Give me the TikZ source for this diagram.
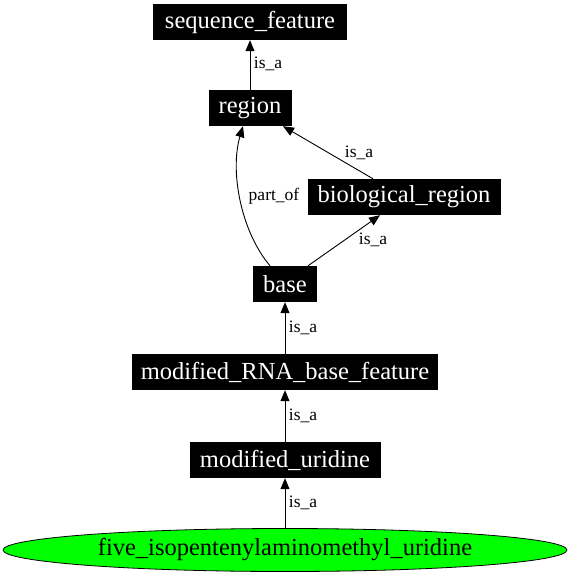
\documentclass[tikz,border=0pt]{standalone}
\usepackage{fontspec}
\setmainfont{Liberation Serif}
\usetikzlibrary{shapes.geometric,arrows.meta,calc}
\definecolor{limegreen}{RGB}{0,255,0}
\tikzset{
  termbox/.style={fill=black,text=white,inner sep=0pt,minimum height=36pt,
    font=\fontsize{24.5}{28}\selectfont},
  leafnode/.style={ellipse,draw=black,fill=limegreen,inner sep=0pt,
    minimum width=564pt,minimum height=43pt,line width=0.8pt,
    font=\fontsize{24.5}{28}\selectfont},
  edgelabel/.style={font=\fontsize{17.5}{20}\selectfont,inner sep=0pt},
  rel/.style={draw=black,line width=0.9pt,-{Triangle[length=11pt,width=9pt]}}
}
\begin{document}
\begin{tikzpicture}[x=1pt,y=-1pt]
\useasboundingbox (0,0) rectangle (570,576);
\node[termbox,minimum width=194pt] (seq) at (250,22) {sequence\_feature};
\node[termbox,minimum width=83pt] (region) at (250,108) {region};
\node[termbox,minimum width=193pt] (bio) at (404,197) {biological\_region};
\node[termbox,minimum width=64pt] (base) at (285,284) {base};
\node[termbox,minimum width=306pt] (mrbf) at (285,372) {modified\_RNA\_base\_feature};
\node[termbox,minimum width=191pt] (mu) at (285,460) {modified\_uridine};
\node[leafnode] (five) at (285,550) {five\_isopentenylaminomethyl\_uridine};

\draw[rel] (region) -- (seq);
\draw[rel] ($(bio.north)+(-31,0)$) -- ($(region.south)+(33,0)$);
\draw[rel] ($(base.north)+(-15,0)$) .. controls (240,230) and (230,170) .. ($(region.south)+(-7,0)$);
\draw[rel] ($(base.north)+(23,0)$) -- ($(bio.south)+(-24,0)$);
\draw[rel] (mrbf) -- (base);
\draw[rel] (mu) -- (mrbf);
\draw[rel] (five) -- (mu);

\node[edgelabel] (l1) at (268,64) {is\_a};
\node[edgelabel] (l2) at (359,153) {is\_a};
\node[edgelabel] (l3) at (274,196) {part\_of};
\node[edgelabel] (l4) at (373,240) {is\_a};
\node[edgelabel] (l5) at (303,328) {is\_a};
\node[edgelabel] (l6) at (303,416) {is\_a};
\node[edgelabel] (l7) at (303,503) {is\_a};
\end{tikzpicture}
\end{document}
